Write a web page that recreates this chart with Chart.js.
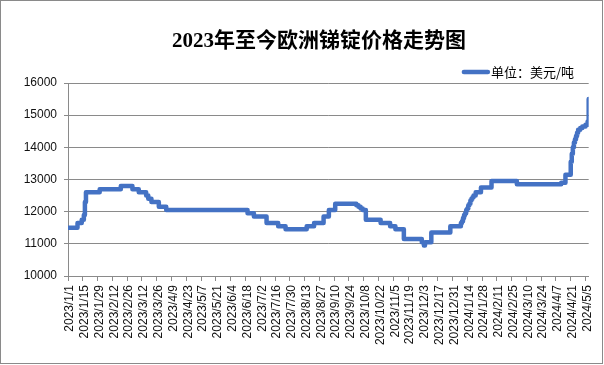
<!DOCTYPE html>
<html><head><meta charset="utf-8">
<script src="https://cdn.jsdelivr.net/npm/chart.js@4"></script>
<style>html,body{margin:0;padding:0;background:#fff;}#wrap{width:604px;height:365px;}</style>
</head><body><div id="wrap"><canvas id="c" width="604" height="365"></canvas></div>
<script>
const chartTitle = '2023年至今欧洲锑锭价格走势图';
const seriesName = '单位：美元/吨';
const tickLabels = ['2023/1/1','2023/1/15','2023/1/29','2023/2/12','2023/2/26','2023/3/12','2023/3/26','2023/4/9','2023/4/23','2023/5/7','2023/5/21','2023/6/4','2023/6/18','2023/7/2','2023/7/16','2023/7/30','2023/8/13','2023/8/27','2023/9/10','2023/9/24','2023/10/8','2023/10/22','2023/11/5','2023/11/19','2023/12/3','2023/12/17','2023/12/31','2024/1/14','2024/1/28','2024/2/11','2024/2/25','2024/3/10','2024/3/24','2024/4/7','2024/4/21','2024/5/5'];
const yTicks = [10000, 11000, 12000, 13000, 14000, 15000, 16000];
const lastDate = '2024/5/8';
// dates on which the price changed, and the price from that date on
const changeDates = ['2023/1/1','2023/1/10','2023/1/14','2023/1/16','2023/1/17','2023/1/18','2023/1/31','2023/2/20','2023/3/3','2023/3/9','2023/3/16','2023/3/18','2023/3/21','2023/3/28','2023/4/4','2023/6/20','2023/6/26','2023/7/8','2023/7/19','2023/7/26','2023/8/15','2023/8/22','2023/8/31','2023/9/5','2023/9/11','2023/10/1','2023/10/3','2023/10/5','2023/10/7','2023/10/10','2023/10/24','2023/11/2','2023/11/7','2023/11/15','2023/12/2','2023/12/4','2023/12/5','2023/12/11','2023/12/29','2024/1/8','2024/1/9','2024/1/10','2024/1/11','2024/1/12','2024/1/13','2024/1/14','2024/1/15','2024/1/16','2024/1/17','2024/1/18','2024/1/19','2024/1/20','2024/1/22','2024/1/27','2024/2/6','2024/3/1','2024/4/12','2024/4/16','2024/4/21','2024/4/22','2024/4/23','2024/4/24','2024/4/25','2024/4/26','2024/4/27','2024/4/28','2024/4/30','2024/5/2','2024/5/5','2024/5/7','2024/5/8'];
const prices = [11500,11650,11750,11900,12300,12600,12700,12800,12700,12600,12500,12400,12300,12150,12050,11950,11850,11650,11550,11450,11550,11650,11850,12050,12250,12200,12150,12100,12050,11750,11650,11550,11450,11150,11050,10950,11050,11350,11550,11650,11700,11800,11900,11950,12050,12100,12200,12250,12350,12400,12450,12500,12600,12750,12950,12850,12900,13150,13550,13800,14000,14150,14250,14350,14450,14550,14600,14650,14700,14800,15500];

function dayIndex(s){const p=s.split('/').map(Number);return Math.round((Date.UTC(p[0],p[1]-1,p[2])-Date.UTC(2023,0,1))/86400000);}
const points = changeDates.map((d,i)=>({x:dayIndex(d), y:prices[i]}));
const tickStep = dayIndex(tickLabels[1]) - dayIndex(tickLabels[0]);
const LINE = '#4472C4', GRID = '#8a8a8a';

const decor = {
  id:'decor',
  afterDraw(chart){
    const ctx = chart.ctx;
    ctx.save();
    ctx.strokeStyle = '#8a8a8a'; ctx.lineWidth = 1;
    ctx.strokeRect(0.5,0.5,602,363);
    ctx.fillStyle = '#000';
    ctx.font = 'bold 21px "Liberation Serif","Noto Sans CJK SC",serif';
    ctx.textAlign = 'center'; ctx.textBaseline = 'middle';
    ctx.fillText(chartTitle, 319, 42);
    ctx.font = '13px "Noto Sans CJK SC",sans-serif';
    ctx.textAlign = 'left';
    const tw = ctx.measureText(seriesName).width;
    const tx = 574 - tw;
    ctx.fillText(seriesName, tx, 72);
    ctx.strokeStyle = LINE; ctx.lineWidth = 4.5; ctx.lineCap = 'round';
    ctx.beginPath(); ctx.moveTo(tx-27, 72); ctx.lineTo(tx-3, 72); ctx.stroke();
    ctx.restore();
  }
};

new Chart(document.getElementById('c'), {
  type:'line',
  data:{datasets:[{label:seriesName, data:points, borderColor:LINE, backgroundColor:LINE, borderWidth:4.5, pointRadius:0, stepped:'before', tension:0, borderJoinStyle:'round', borderCapStyle:'round', fill:false}]},
  options:{
    responsive:false, animation:false, devicePixelRatio:1,
    layout:{padding:{top:83, right:14, left:0, bottom:0}},
    plugins:{legend:{display:false}, title:{display:false}, tooltip:{enabled:false}},
    scales:{
      x:{type:'linear', min:0, max:dayIndex(lastDate),
        afterFit(s){s.height = 89;},
        grid:{drawOnChartArea:false, drawTicks:true, tickLength:5, color:GRID, lineWidth:1},
        border:{display:true, color:GRID, width:1},
        ticks:{stepSize:tickStep, includeBounds:false, autoSkip:false, maxRotation:90, minRotation:90, padding:4, labelOffset:2,
          color:'#111', font:{family:'"Liberation Sans",Arial,sans-serif', size:12},
          callback:(v)=>{const i=v/tickStep; return Number.isInteger(i)&&tickLabels[i]?tickLabels[i]:'';}}
      },
      y:{min:yTicks[0], max:yTicks[yTicks.length-1],
        afterFit(s){s.width = 68;},
        afterBuildTicks(s){s.ticks = yTicks.map(v=>({value:v}));},
        grid:{color:GRID, lineWidth:1, tickLength:4, drawTicks:true},
        border:{display:true, color:GRID, width:1},
        ticks:{padding:7, color:'#111', font:{family:'"Liberation Sans",Arial,sans-serif', size:12},
          callback:(v)=>String(v)}
      }
    }
  },
  plugins:[decor]
});
</script></body></html>
